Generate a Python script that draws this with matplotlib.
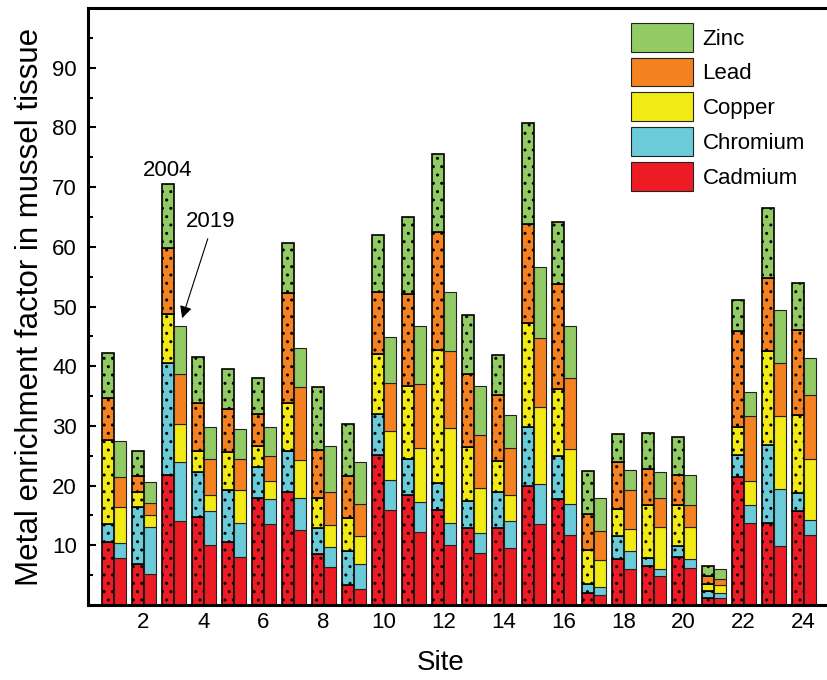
import numpy as np
import matplotlib
matplotlib.use("Agg")
import matplotlib.pyplot as plt

plt.rcParams['font.family'] = ['Liberation Sans', 'DejaVu Sans']
plt.rcParams['hatch.linewidth'] = 1.0

sites = list(range(1, 25))
metals = ["Cadmium", "Chromium", "Copper", "Lead", "Zinc"]
colors = ["#ED1C24", "#6BCBD9", "#F2EA14", "#F58220", "#92CB64"]

# 2004 survey
cd_2004 = [10.6, 6.8, 21.7, 14.7, 10.6, 17.9, 18.9, 8.6, 3.3, 25.1, 18.5, 15.9, 12.9, 12.9, 20.0, 17.8, 2.0, 7.7, 6.5, 8.0, 1.1, 21.5, 13.7, 15.8]
cr_2004 = [3.0, 9.6, 18.8, 7.5, 8.6, 5.2, 6.9, 4.3, 5.7, 6.9, 6.0, 4.6, 4.6, 6.0, 9.8, 7.1, 1.6, 3.8, 1.4, 1.8, 1.2, 3.6, 13.1, 3.0]
cu_2004 = [14.1, 2.5, 8.2, 3.6, 6.4, 3.6, 8.0, 5.0, 5.5, 10.0, 12.2, 22.2, 9.0, 5.2, 17.4, 11.3, 5.6, 4.5, 8.9, 7.0, 1.3, 4.7, 15.7, 13.1]
pb_2004 = [6.9, 2.7, 11.1, 8.0, 7.3, 5.3, 18.4, 8.0, 7.1, 10.5, 15.4, 19.7, 12.2, 11.1, 16.7, 17.5, 6.0, 8.0, 6.0, 4.9, 1.2, 16.1, 12.3, 14.2]
zn_2004 = [7.6, 4.2, 10.7, 7.8, 6.6, 6.0, 8.5, 10.6, 8.7, 9.4, 12.9, 13.1, 9.9, 6.7, 16.8, 10.5, 7.3, 4.6, 6.0, 6.5, 1.7, 5.2, 11.7, 7.8]

# 2019 survey
cd_2019 = [7.9, 5.2, 14.0, 10.0, 8.0, 13.6, 12.6, 6.4, 2.6, 15.9, 12.3, 10.1, 8.7, 9.5, 13.5, 11.8, 1.6, 6.0, 4.8, 6.2, 1.1, 13.7, 9.9, 11.8]
cr_2019 = [2.5, 7.8, 10.0, 5.8, 5.7, 4.1, 5.3, 3.3, 4.2, 5.1, 4.9, 3.7, 3.4, 4.5, 6.8, 5.2, 1.4, 3.1, 1.3, 1.5, 0.9, 3.1, 9.5, 2.4]
cu_2019 = [6.0, 2.1, 6.3, 2.6, 5.5, 3.0, 6.4, 3.7, 4.8, 8.1, 9.1, 15.8, 7.5, 4.4, 12.8, 9.2, 4.6, 3.7, 7.0, 5.3, 1.3, 3.9, 12.3, 10.2]
pb_2019 = [5.0, 2.0, 8.4, 6.0, 5.3, 4.3, 12.2, 5.5, 5.3, 8.1, 10.7, 12.9, 8.9, 7.9, 11.7, 11.8, 4.8, 6.4, 4.8, 3.7, 1.1, 10.9, 8.9, 10.8]
zn_2019 = [6.0, 3.5, 8.0, 5.5, 5.0, 4.8, 6.6, 7.7, 7.0, 7.7, 9.8, 10.0, 8.2, 5.5, 11.8, 8.8, 5.5, 3.4, 4.4, 5.1, 1.7, 4.1, 8.8, 6.1]

data_2004 = [cd_2004, cr_2004, cu_2004, pb_2004, zn_2004]
data_2019 = [cd_2019, cr_2019, cu_2019, pb_2019, zn_2019]

fig = plt.figure(figsize=(8.28, 6.8), dpi=100)
ax = fig.add_axes([0.1063, 0.1103, 0.9004, 0.8779])

x = np.array(sites, dtype=float)
w = 0.4

bottom = np.zeros(len(sites))
for vals, col in zip(data_2004, colors):
    v = np.array(vals)
    ax.bar(x - 0.2, v, width=w, bottom=bottom, color=col, edgecolor='black',
           linewidth=1.2, hatch='..', zorder=2)
    bottom += v

bottom = np.zeros(len(sites))
handles = []
for vals, col, name in zip(data_2019, colors, metals):
    v = np.array(vals)
    b = ax.bar(x + 0.21, v, width=w, bottom=bottom, color=col, edgecolor='#222222',
               linewidth=0.8, zorder=2, label=name)
    handles.append(b)
    bottom += v

ax.set_xlim(0.15, 25.0)
ax.set_ylim(0, 100)
ax.set_xticks(range(2, 25, 2))
ax.set_xticks(range(1, 25, 2), minor=True)
ax.set_yticks(range(10, 100, 10))
ax.set_yticks(range(5, 100, 10), minor=True)
ax.tick_params(axis='both', which='major', direction='in', length=6, width=1.5, labelsize=16)
ax.tick_params(axis='both', which='minor', direction='in', length=3.5, width=1.5)
ax.tick_params(axis='x', pad=5)
ax.tick_params(axis='y', pad=8)

for s in ['left', 'bottom', 'top']:
    ax.spines[s].set_linewidth(2.2)
ax.spines['right'].set_visible(False)

ax.set_xlabel('Site', fontsize=20)
ax.xaxis.set_label_coords(0.4735, -0.075)
ax.set_ylabel('Metal enrichment factor in mussel tissue', fontsize=22.5)
ax.yaxis.set_label_coords(-0.058, 0.5)

leg = ax.legend(handles[::-1], metals[::-1], loc='upper left', bbox_to_anchor=(0.717, 0.99),
                frameon=False, fontsize=16, handlelength=2.75, handleheight=1.62,
                labelspacing=0.265, handletextpad=0.45, borderaxespad=0)

ax.text(2.8, 72.8, '2004', ha='center', va='center', fontsize=16)
ax.text(4.23, 64.3, '2019', ha='center', va='center', fontsize=16)
ax.annotate('', xy=(3.26, 47.6), xytext=(4.17, 61.8),
            arrowprops=dict(arrowstyle='-|>', color='black', lw=0.8, mutation_scale=18))

fig.savefig('out.png', dpi=100)
